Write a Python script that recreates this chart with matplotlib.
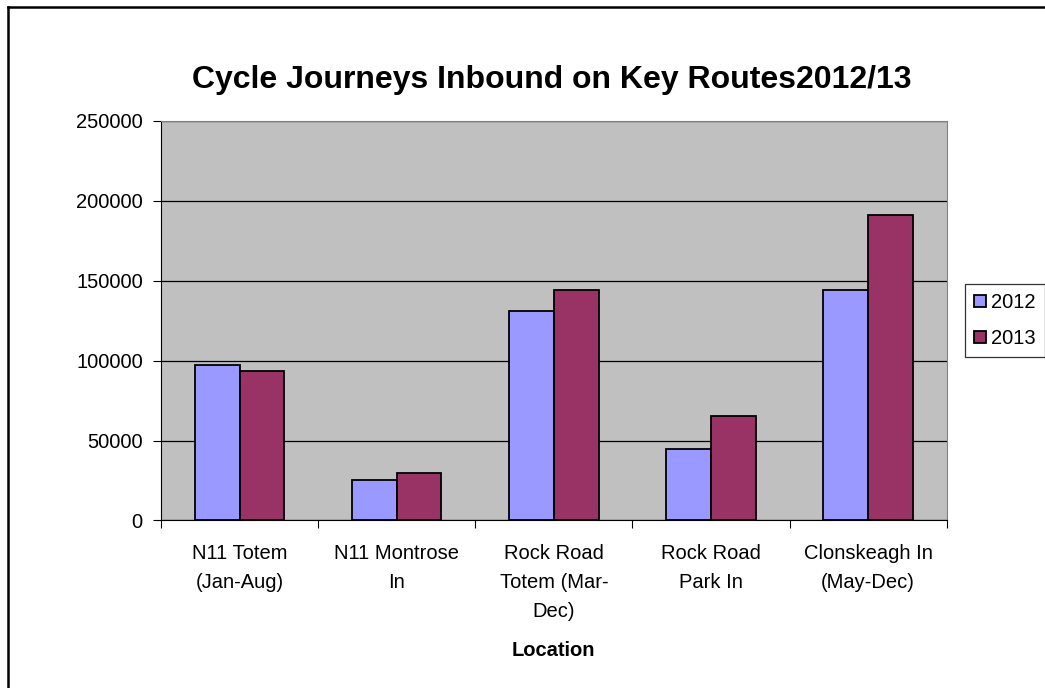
import matplotlib.pyplot as plt
import numpy as np
from matplotlib.lines import Line2D

plt.rcParams['font.family'] = ['Liberation Sans', 'DejaVu Sans']

locations = ['N11 Totem\n(Jan-Aug)', 'N11 Montrose\nIn', 'Rock Road\nTotem (Mar-\nDec)',
             'Rock Road\nPark In', 'Clonskeagh In\n(May-Dec)']
years = ['2012', '2013']
journeys_2012 = [97500, 25500, 131000, 45000, 144000]
journeys_2013 = [93500, 30000, 144000, 65300, 191300]

fig = plt.figure(figsize=(10.45, 6.88), dpi=100)
ax = fig.add_axes([0.154, 0.2435, 0.752, 0.581])

x = np.arange(len(locations))
w = 0.285
ax.bar(x - w / 2, journeys_2012, w, color='#9999FF', edgecolor='black', linewidth=1.3, label=years[0], zorder=3)
ax.bar(x + w / 2, journeys_2013, w, color='#993366', edgecolor='black', linewidth=1.3, label=years[1], zorder=3)

ax.set_facecolor('#C0C0C0')
ax.set_xlim(-0.5, 4.5)
ax.set_ylim(0, 250000)
ax.set_yticks(range(0, 250001, 50000))
ax.yaxis.grid(True, color='black', linewidth=0.9, zorder=1)
ax.set_axisbelow(True)

# category ticks sit between groups
ax.set_xticks(np.arange(-0.5, 4.6, 1.0), minor=False)
ax.set_xticklabels([''] * 6)
ax.set_xticks(x, minor=True)
ax.set_xticklabels(locations, minor=True, fontsize=14.5, linespacing=1.65)
ax.tick_params(axis='x', which='minor', length=0, pad=17)
ax.tick_params(axis='x', which='major', length=6, direction='out')
ax.tick_params(axis='y', length=6, direction='out', labelsize=14.5, pad=7)

for s in ['top', 'right']:
    ax.spines[s].set_color('#808080')
for s in ['left', 'bottom']:
    ax.spines[s].set_color('black')

ax.set_xlabel('Location', fontsize=14.5, fontweight='bold', labelpad=15)
fig.text(0.528, 0.883, 'Cycle Journeys Inbound on Key Routes2012/13', ha='center', va='center',
         fontsize=23, fontweight='bold')

leg = ax.legend(loc='center left', bbox_to_anchor=(1.023, 0.5), fontsize=14.5, frameon=True,
                fancybox=False, edgecolor='black', handlelength=0.6, handleheight=0.6,
                handletextpad=0.25, borderpad=0.45, labelspacing=0.85, borderaxespad=0)
leg.get_frame().set_linewidth(0.9)

# chart border, cropped on the right and bottom
fig.add_artist(Line2D([0.008, 0.008], [0.0, 0.99], transform=fig.transFigure, color='black', linewidth=1.8))
fig.add_artist(Line2D([0.008, 1.0], [0.99, 0.99], transform=fig.transFigure, color='black', linewidth=1.8))

fig.savefig('out.png', dpi=100)
